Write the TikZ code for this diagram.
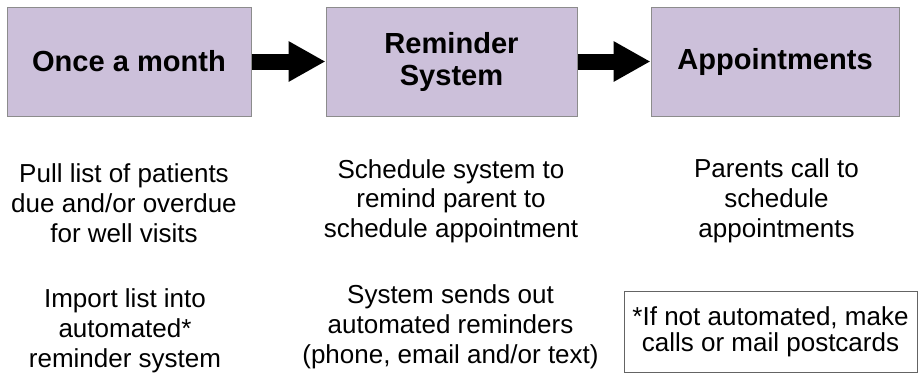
\documentclass[tikz,border=0pt]{standalone}
\usepackage{fontspec}
\setmainfont{Liberation Sans}
\usetikzlibrary{arrows.meta}

\definecolor{boxfill}{RGB}{204,192,218}
\definecolor{boxline}{RGB}{140,140,140}

\tikzset{
  stagebox/.style={draw=boxline, fill=boxfill, line width=0.75, minimum height=81.75pt, inner sep=0pt, align=center, font=\bfseries\fontsize{21.8}{24}\selectfont},
  steptext/.style={anchor=north, inner sep=0pt, align=center, font=\fontsize{19.5}{22.3}\selectfont},
  blockarrow/.style={line width=12pt, -{Triangle[length=27.75pt,width=28.5pt]}}
}

\begin{document}
\begin{tikzpicture}[x=0.75pt,y=0.75pt,yscale=-1,xscale=1]
\useasboundingbox (0,0) rectangle (919,376);

%Shape: Rectangle [id:once]
\node (once) at (129,61.5) [stagebox, minimum width=183pt] {Once a month};
%Shape: Rectangle [id:remind]
\node (remind) at (451.5,61.5) [stagebox, minimum width=188.25pt] {Reminder\\System};
%Shape: Rectangle [id:appoint]
\node (appoint) at (775,61.5) [stagebox, minimum width=186pt] {Appointments};

%Straight Lines [id:once-remind]
\draw [blockarrow] (once.east) -- (remind.west);
%Straight Lines [id:remind-appoint]
\draw [blockarrow] (remind.east) -- (appoint.west);

% Text Node
\node (pull) at (124,163.5) [steptext] {Pull list of patients\\due and/or overdue\\for well visits};
% Text Node
\node (import) at (125,288.5) [steptext] {Import list into\\automated*\\reminder system};
% Text Node
\node (sched) at (451,159) [steptext] {Schedule system to\\remind parent to\\schedule appointment};
% Text Node
\node (sends) at (450.5,284.5) [steptext] {System sends out\\automated reminders\\(phone, email and/or text)};
% Text Node
\node (call) at (776.5,158.5) [steptext] {Parents call to\\schedule\\appointments};
% Text Node
\node (note) at (770.5,331.5) [draw={rgb,255:red,100;green,100;blue,100}, line width=0.75, minimum width=219.75pt, minimum height=60.75pt, inner sep=0pt, align=center, font=\fontsize{19.5}{19.5}\selectfont] {*If not automated, make\\calls or mail postcards};

\end{tikzpicture}
\end{document}
